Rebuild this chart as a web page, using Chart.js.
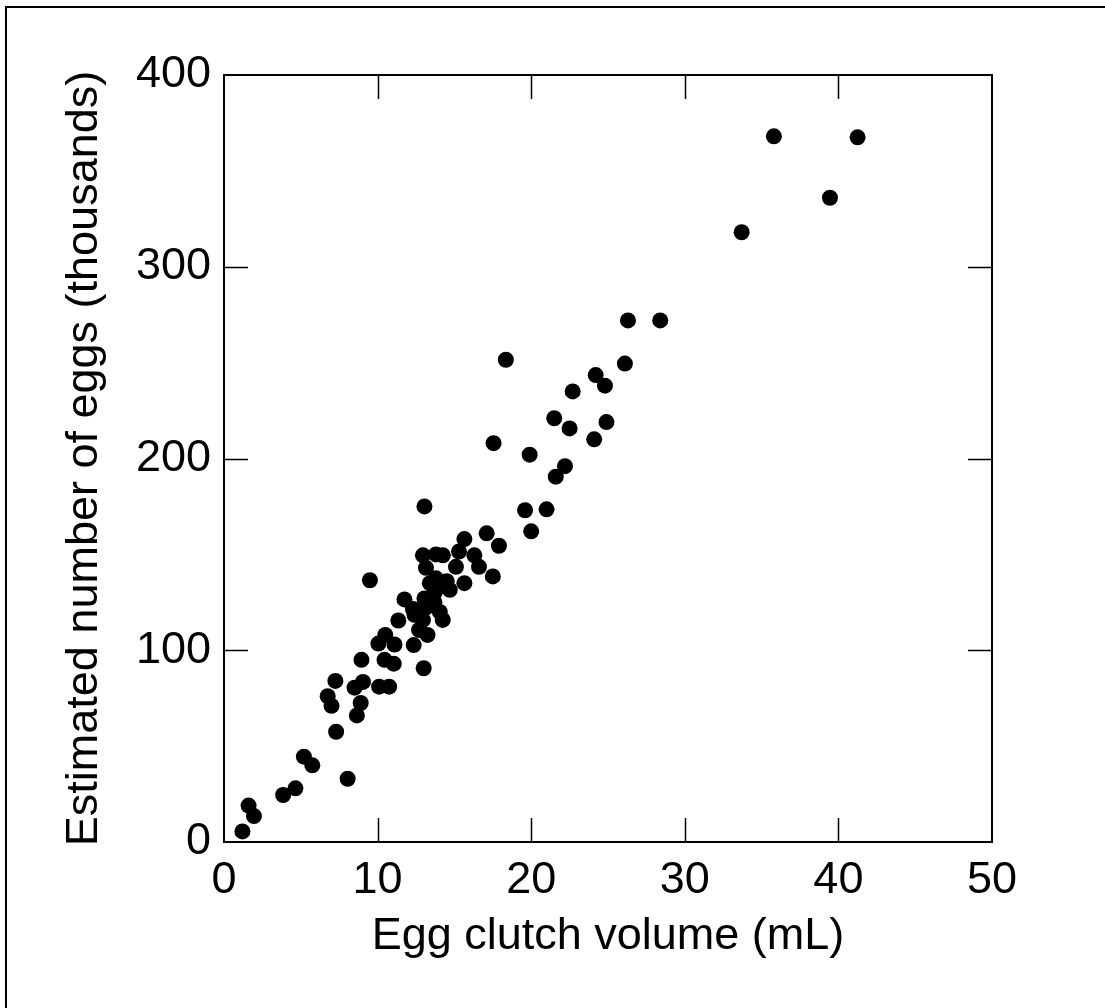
<!DOCTYPE html>
<html>
<head>
<meta charset="utf-8">
<script src="https://cdn.jsdelivr.net/npm/chart.js@4"></script>
<style>
html,body{margin:0;padding:0;background:#fff;}
canvas{display:block;}
</style>
</head>
<body>
<canvas id="c" width="1105" height="1008"></canvas>
<script>
// Egg clutch volume (mL)
const clutchVolume = [
  1.2, 1.6, 1.95, 3.85, 4.65, 5.2, 5.75, 8.05, 7.3, 6.75,
  7.0, 7.25, 8.65, 8.9, 8.5, 9.05, 10.1, 10.75, 8.95, 10.45,
  11.05, 10.05, 10.5, 11.1, 12.35, 13.0, 13.25, 12.7, 11.35, 12.4,
  12.95, 14.24, 14.05, 12.85, 11.75, 13.05, 13.7, 13.4, 13.8, 14.5,
  14.7, 15.65, 13.15, 15.1, 12.95, 13.8, 14.25, 9.5, 13.05, 15.65,
  15.3, 16.3, 16.6, 17.1, 17.9, 17.5, 19.6, 21.0, 20.0, 21.6,
  22.2, 19.9, 17.55, 24.1, 22.5, 21.5, 24.9, 22.7, 24.8, 24.2,
  26.1, 18.35, 26.3, 28.4, 33.7, 35.8, 39.45, 41.25, 12.3, 13.2,
  13.7, 14.0
];
// Estimated number of eggs (thousands)
const eggCount = [
  5.5, 19, 13.5, 24.5, 28, 44.5, 40, 33, 57.5, 76,
  71, 84, 66, 72.5, 80.5, 83.5, 81, 81, 95, 95,
  93, 103.5, 108, 103, 102.7, 90.6, 108, 110.6, 115.5, 118.5,
  115.8, 115.8, 120, 120, 126.5, 127, 125, 135, 137.5, 136,
  131.5, 135, 143, 143.5, 149.5, 150, 149.5, 136.5, 175, 158,
  151.5, 149.5, 143.5, 161, 154.5, 138.5, 173, 173.5, 162, 190.5,
  196, 202, 208, 210, 215.7, 221, 219, 235, 238, 243.5,
  249.5, 251.5, 272, 272, 318, 368, 336, 367.5, 121.5, 122.5,
  130, 133
];
const xTicks = [0, 10, 20, 30, 40, 50];
const yTicks = [0, 100, 200, 300, 400];
const xTitle = 'Egg clutch volume (mL)';
const yTitle = 'Estimated number of eggs (thousands)';

const FONT = '"Liberation Sans", Arial, sans-serif';
const points = clutchVolume.map((x, i) => ({x: x, y: eggCount[i]}));

const framePlugin = {
  id: 'frame',
  beforeDraw(chart) {
    const ctx = chart.ctx;
    ctx.save();
    ctx.fillStyle = '#fff';
    ctx.fillRect(0, 0, chart.width, chart.height);
    ctx.strokeStyle = '#000';
    ctx.lineWidth = 2;
    ctx.strokeRect(6, 7, chart.width + 20, chart.height + 20);
    ctx.restore();
  },
  afterDraw(chart) {
    const ctx = chart.ctx;
    const a = chart.chartArea;
    const xs = chart.scales.x, ys = chart.scales.y;
    const len = 24;
    ctx.save();
    ctx.strokeStyle = '#000';
    ctx.lineWidth = 1.5;
    ctx.beginPath();
    xTicks.slice(1, -1).forEach(v => {
      const px = Math.round(xs.getPixelForValue(v)) + 0.5;
      ctx.moveTo(px, a.bottom); ctx.lineTo(px, a.bottom - len);
      ctx.moveTo(px, a.top); ctx.lineTo(px, a.top + len);
    });
    yTicks.slice(1, -1).forEach(v => {
      const py = Math.round(ys.getPixelForValue(v)) + 0.5;
      ctx.moveTo(a.left, py); ctx.lineTo(a.left + len, py);
      ctx.moveTo(a.right, py); ctx.lineTo(a.right - len, py);
    });
    ctx.stroke();
    ctx.lineWidth = 2;
    ctx.strokeRect(a.left, a.top, a.right - a.left, a.bottom - a.top);
    ctx.restore();
  }
};

new Chart(document.getElementById('c'), {
  type: 'scatter',
  data: {
    datasets: [{
      data: points,
      backgroundColor: '#000',
      borderColor: '#000',
      borderWidth: 0,
      pointRadius: 8,
      pointHoverRadius: 8
    }]
  },
  options: {
    responsive: false,
    animation: false,
    devicePixelRatio: 1,
    layout: {padding: {left: 0, top: 75, right: 113, bottom: 0}},
    plugins: {legend: {display: false}, tooltip: {enabled: false}},
    scales: {
      x: {
        type: 'linear',
        min: 0, max: 50,
        afterFit(s) { s.height = 166; },
        afterBuildTicks(s) { s.ticks = xTicks.map(v => ({value: v})); },
        grid: {display: false, drawTicks: false},
        border: {display: false},
        ticks: {color: '#000', font: {family: FONT, size: 45}, padding: 12, maxRotation: 0},
        title: {display: true, text: xTitle, color: '#000', font: {family: FONT, size: 45}, padding: {top: 0, bottom: 44}}
      },
      y: {
        type: 'linear',
        min: 0, max: 400,
        afterFit(s) { s.width = 224; },
        afterBuildTicks(s) { s.ticks = yTicks.map(v => ({value: v})); },
        grid: {display: false, drawTicks: false},
        border: {display: false},
        ticks: {color: '#000', font: {family: FONT, size: 45}, padding: 13},
        title: {display: true, text: yTitle, color: '#000', font: {family: FONT, size: 45}, padding: {top: 58, bottom: 0}}
      }
    }
  },
  plugins: [framePlugin]
});
</script>
</body>
</html>
